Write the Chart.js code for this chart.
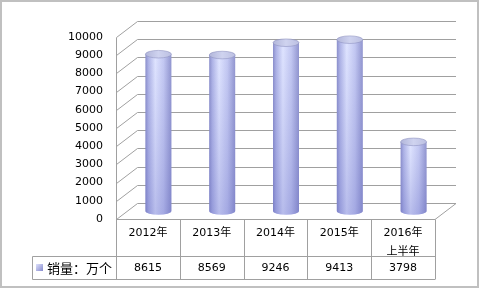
<!DOCTYPE html>
<html>
<head>
<meta charset="utf-8">
<script src="https://cdn.jsdelivr.net/npm/chart.js@4"></script>
<style>
  html, body { margin: 0; padding: 0; background: #fff; }
  canvas { display: block; }
</style>
</head>
<body>
<canvas id="salesChart" width="483" height="291"></canvas>
<script>
const categories = ["2012年", "2013年", "2014年", "2015年", ["2016年", "上半年"]];
const sales = [8615, 8569, 9246, 9413, 3798];
const seriesName = "销量：万个";

const DX = 21, DY = 16; // depth of the 3d box
const lineColor = "#a0a0a0";
const numFont = "11px 'DejaVu Sans', Verdana, sans-serif";
const cjkFont = "13px 'Noto Sans CJK SC', sans-serif";

const box3d = {
    id: "box3d",
    beforeDraw(chart) {
        const c = chart.ctx;
        c.save();
        c.strokeStyle = "#c0c0c0";
        c.lineWidth = 2;
        c.strokeRect(1, 1, 477, 286);
        c.restore();
    },
    beforeDatasetsDraw(chart) {
        const c = chart.ctx;
        const { left, right, top } = chart.chartArea;
        const y = chart.scales.y;
        c.save();
        c.strokeStyle = lineColor;
        c.lineWidth = 1;
        // back wall grid + side diagonals
        y.ticks.forEach((t) => {
            const py = Math.round(y.getPixelForValue(t.value)) + 0.5;
            c.beginPath();
            c.moveTo(left + 0.5, py);
            c.lineTo(left + DX + 0.5, py - DY);
            c.lineTo(right + DX, py - DY);
            c.stroke();
        });
        const by = Math.round(y.getPixelForValue(0)) + 0.5;
        c.beginPath();
        // front left edge
        c.moveTo(left + 0.5, Math.round(top) + 0.5);
        c.lineTo(left + 0.5, 279.5);
        // floor front edge and right diagonal
        c.moveTo(left, by);
        c.lineTo(right, by);
        c.lineTo(right + DX, by - DY);
        c.stroke();
        c.restore();
    },
    afterDatasetsDraw(chart) {
        const c = chart.ctx;
        const meta = chart.getDatasetMeta(0);
        meta.data.forEach((bar) => {
            const cx = bar.x + DX / 2;
            const ty = bar.y - DY / 2;
            const by = bar.base - DY / 2;
            const rx = bar.width / 2;
            const ry = 3.8;
            c.save();
            // body
            const g = c.createLinearGradient(cx - rx, 0, cx + rx, 0);
            g.addColorStop(0, "#8a8ecb");
            g.addColorStop(0.12, "#aeb3e6");
            g.addColorStop(0.38, "#dfe4ff");
            g.addColorStop(0.7, "#c3c8f2");
            g.addColorStop(1, "#9195cf");
            c.beginPath();
            c.moveTo(cx - rx, ty);
            c.lineTo(cx - rx, by);
            c.ellipse(cx, by, rx, ry, 0, Math.PI, 0, true);
            c.lineTo(cx + rx, ty);
            c.closePath();
            c.fillStyle = g;
            c.fill();
            const v = c.createLinearGradient(0, ty, 0, by + ry);
            v.addColorStop(0, "rgba(120,125,200,0)");
            v.addColorStop(1, "rgba(90,95,190,0.3)");
            c.fillStyle = v;
            c.fill();
            // top cap
            const tg = c.createLinearGradient(cx - rx, 0, cx + rx, 0);
            tg.addColorStop(0, "#b2b6da");
            tg.addColorStop(0.5, "#cfd3ef");
            tg.addColorStop(1, "#bcc0e2");
            c.beginPath();
            c.ellipse(cx, ty, rx, ry, 0, 0, Math.PI * 2);
            c.fillStyle = tg;
            c.fill();
            c.strokeStyle = "rgba(140,144,190,0.7)";
            c.lineWidth = 0.8;
            c.stroke();
            c.restore();
        });
    },
    afterDraw(chart) {
        const c = chart.ctx;
        const { left, right } = chart.chartArea;
        const x = chart.scales.x;
        const r1 = 219.5, r2 = 256.5, r3 = 279.5;
        const legendLeft = 32.5;
        c.save();
        c.strokeStyle = lineColor;
        c.lineWidth = 1;
        c.beginPath();
        // column separators
        for (let i = 0; i <= categories.length; i++) {
            const px = Math.round(left + (right - left) * i / categories.length) + 0.5;
            c.moveTo(px, r1);
            c.lineTo(px, r3);
        }
        c.moveTo(legendLeft, r2);
        c.lineTo(right, r2);
        c.moveTo(legendLeft, r3);
        c.lineTo(right, r3);
        c.moveTo(legendLeft, r2);
        c.lineTo(legendLeft, r3);
        c.stroke();

        // value row
        c.fillStyle = "#000";
        c.font = numFont;
        c.textAlign = "center";
        c.textBaseline = "middle";
        sales.forEach((val, i) => {
            c.fillText(String(val), x.getPixelForValue(i), 268);
        });

        // legend key
        const lg = c.createLinearGradient(36, 263, 43, 270);
        lg.addColorStop(0, "#e4e7ff");
        lg.addColorStop(1, "#8c90d0");
        c.fillStyle = lg;
        c.fillRect(36, 264, 7, 7);
        c.fillStyle = "#000";
        c.font = cjkFont;
        c.textAlign = "left";
        c.fillText(seriesName, 47, 268);
        c.restore();
    }
};

new Chart(document.getElementById("salesChart"), {
    type: "bar",
    data: {
        labels: categories,
        datasets: [
            {
                label: seriesName,
                data: sales,
                backgroundColor: "rgba(0,0,0,0)",
                borderWidth: 0,
                barThickness: 26,
            },
        ],
    },
    options: {
        responsive: false,
        animation: false,
        layout: { padding: { top: 37, right: 48, left: 0, bottom: 0 } },
        plugins: {
            legend: { display: false },
            tooltip: { enabled: false },
        },
        scales: {
            x: {
                grid: { display: false, drawTicks: false },
                border: { display: false },
                ticks: {
                    color: "#000",
                    font: { family: "'DejaVu Sans', 'Noto Sans CJK SC', sans-serif", size: 11, lineHeight: 1.7 },
                    padding: 5,
                    maxRotation: 0,
                    autoSkip: false,
                },
                afterFit: (s) => { s.height = 72; },
            },
            y: {
                min: 0,
                max: 10000,
                grid: { display: false, drawTicks: false },
                border: { display: false },
                ticks: {
                    stepSize: 1000,
                    color: "#000",
                    font: { family: "'DejaVu Sans', Verdana, sans-serif", size: 11 },
                    padding: 13,
                    callback: (v) => String(v),
                },
                afterFit: (s) => { s.width = 116; },
            },
        },
    },
    plugins: [box3d],
});
</script>
</body>
</html>
